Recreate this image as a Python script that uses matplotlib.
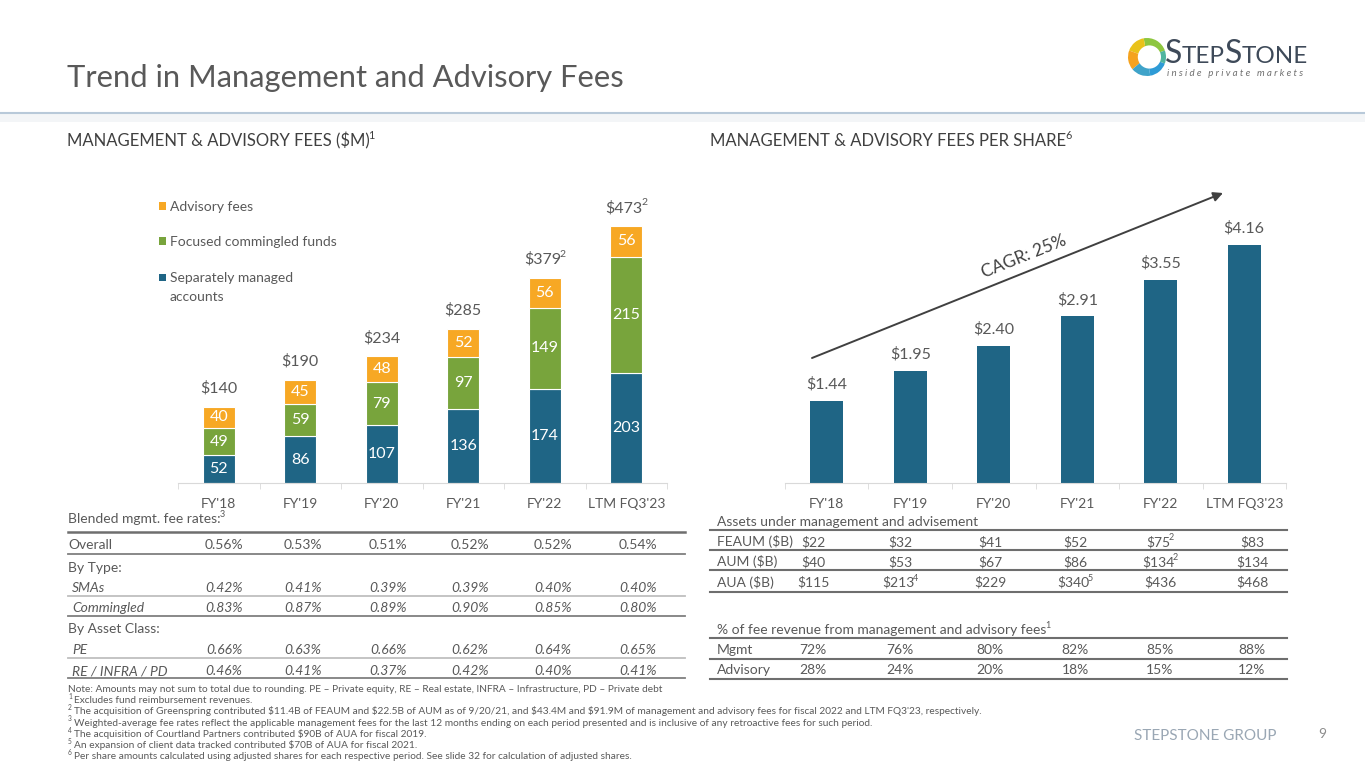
import matplotlib
matplotlib.use("Agg")
import matplotlib.pyplot as plt
from matplotlib.lines import Line2D
from matplotlib.patches import Wedge, Rectangle, Circle

plt.rcParams['font.family'] = ['Lato', 'DejaVu Sans']

# ---- data ----
periods = ["FY'18", "FY'19", "FY'20", "FY'21", "FY'22", "LTM FQ3'23"]
sma = [52, 86, 107, 136, 174, 203]
commingled = [49, 59, 79, 97, 149, 215]
advisory = [40, 45, 48, 52, 56, 56]
total_labels = ["$140", "$190", "$234", "$285", "$379²", "$473²"]

per_share = [1.44, 1.95, 2.40, 2.91, 3.55, 4.16]
cagr_text = "CAGR: 25%"

fee_rows = [
    ("Overall", ["0.56%", "0.53%", "0.51%", "0.52%", "0.52%", "0.54%"], "normal"),
    ("By Type:", None, "normal"),
    ("SMAs", ["0.42%", "0.41%", "0.39%", "0.39%", "0.40%", "0.40%"], "italic"),
    ("Commingled", ["0.83%", "0.87%", "0.89%", "0.90%", "0.85%", "0.80%"], "italic"),
    ("By Asset Class:", None, "normal"),
    ("PE", ["0.66%", "0.63%", "0.66%", "0.62%", "0.64%", "0.65%"], "italic"),
    ("RE / INFRA / PD", ["0.46%", "0.41%", "0.37%", "0.42%", "0.40%", "0.41%"], "italic"),
]
aum_rows = [
    ("FEAUM ($B)", ["$22", "$32", "$41", "$52", "$75²", "$83"]),
    ("AUM ($B)", ["$40", "$53", "$67", "$86", "$134²", "$134"]),
    ("AUA ($B)", ["$115", "$213⁴", "$229", "$340⁵", "$436", "$468"]),
]
mix_rows = [
    ("Mgmt", ["72%", "76%", "80%", "82%", "85%", "88%"]),
    ("Advisory", ["28%", "24%", "20%", "18%", "15%", "12%"]),
]
footnotes = [
    "Note: Amounts may not sum to total due to rounding. PE – Private equity, RE – Real estate, INFRA – Infrastructure, PD – Private debt",
    "¹ Excludes fund reimbursement revenues.",
    "² The acquisition of Greenspring contributed $11.4B of FEAUM and $22.5B of AUM as of 9/20/21, and $43.4M and $91.9M of management and advisory fees for fiscal 2022 and LTM FQ3'23, respectively.",
    "³ Weighted-average fee rates reflect the applicable management fees for the last 12 months ending on each period presented and is inclusive of any retroactive fees for such period.",
    "⁴ The acquisition of Courtland Partners contributed $90B of AUA for fiscal 2019.",
    "⁵ An expansion of client data tracked contributed $70B of AUA for fiscal 2021.",
    "⁶ Per share amounts calculated using adjusted shares for each respective period. See slide 32 for calculation of adjusted shares.",
]

BLUE = "#1F6585"
GREEN = "#78A43C"
ORANGE = "#F7A824"
GRAY = "#595959"
DARK = "#404040"

W, H = 1365, 768
fig = plt.figure(figsize=(W / 100, H / 100), dpi=100)
renderer = fig.canvas.get_renderer()

SUPS = {"¹": "1", "²": "2", "³": "3", "⁴": "4", "⁵": "5", "⁶": "6"}


def _put(x, yb, s, **kw):
    t = fig.text(x / W, 1 - yb / H, s, parse_math=False, va="baseline", ha="left", **kw)
    return t, t.get_window_extent(renderer).width


def T(x, y, s, ha="left", **kw):
    # y is the visual middle of the capitals; text sits on its baseline,
    # superscript markers are drawn as separate smaller texts
    kw.setdefault("color", GRAY)
    fs = kw.pop("fontsize", 10)
    yb = y + 0.36 * fs * 100 / 72
    ys = yb - 0.42 * fs * 100 / 72
    lead = trail = None
    if s and s[0] in SUPS:
        lead, s = SUPS[s[0]], s[1:].lstrip()
    if s and s[-1] in SUPS:
        trail, s = SUPS[s[-1]], s[:-1]
    parts = []
    if lead:
        parts.append((_put(0, ys, lead, fontsize=fs * 0.65, **kw), 2.5))
    parts.append((_put(0, yb, s, fontsize=fs, **kw), -1.2 if trail else 0))
    if trail:
        parts.append((_put(0, ys, trail, fontsize=fs * 0.65, **kw), 0))
    total = sum(w + gap for (t, w), gap in parts)
    x0 = {"left": x, "center": x - total / 2, "right": x - total}[ha]
    for (t, w), gap in parts:
        t.set_x(x0 / W)
        x0 += w + gap


def hline(x0, x1, y, color="#7F7F7F", lw=1.3):
    fig.add_artist(Line2D([x0 / W, x1 / W], [1 - y / H, 1 - y / H],
                          transform=fig.transFigure, color=color, lw=lw))


def px_axes(x0, y0, x1, y1):
    return fig.add_axes([x0 / W, 1 - y1 / H, (x1 - x0) / W, (y1 - y0) / H])


# ---- header ----
T(67, 76, "Trend in Management and Advisory Fees", fontsize=22.2, color=GRAY)
hline(0, W, 113, color="#B8C9D9", lw=1.5)
fig.add_artist(Rectangle((0, 1 - 122 / H), 1, 8 / H, transform=fig.transFigure,
                         color="#F3F5F7", lw=0))
T(67, 140, "MANAGEMENT & ADVISORY FEES ($M)¹", fontsize=12, color=DARK)
T(710, 140, "MANAGEMENT & ADVISORY FEES PER SHARE⁶", fontsize=12, color=DARK)

# logo
lax = px_axes(1127, 37, 1167, 77)
lax.set_xlim(-1, 1)
lax.set_ylim(-1, 1)
lax.set_aspect("equal")
lax.axis("off")
ring = [(20, 100, "#8DC63F"), (100, 160, "#E9C21A"), (160, 220, "#F5A21E"),
        (220, 280, "#3FA3C9"), (280, 340, "#2E9BD6"), (340, 380, "#4FB5A0")]
for a0, a1, c in ring:
    lax.add_patch(Wedge((0, 0), 0.95, a0, a1, color=c, lw=0))
lax.add_patch(Circle((0.12, 0.0), 0.58, color="white", lw=0))

lx = 1165
for piece, fs in [("S", 23), ("TEP", 17.5), ("S", 23), ("TONE", 17.5)]:
    t, w = _put(lx, 63, piece, fontsize=fs, color="#3E4A59")
    lx += w - 0.3
T(1167, 73, " ".join("inside private markets"), fontsize=7, style="italic", color="#707070")

# ---- left chart: stacked fees ----
ax = px_axes(178, 190, 667, 483)
x = range(len(periods))
bw = 0.39
ax.bar(x, sma, bw, color=BLUE, edgecolor="white", lw=0.8)
b2 = [s for s in sma]
ax.bar(x, commingled, bw, bottom=b2, color=GREEN, edgecolor="white", lw=0.8)
b3 = [s + c for s, c in zip(sma, commingled)]
ax.bar(x, advisory, bw, bottom=b3, color=ORANGE, edgecolor="white", lw=0.8)
for i in x:
    ax.text(i, sma[i] / 2, str(sma[i]), ha="center", va="center", color="white", fontsize=11.5)
    ax.text(i, b2[i] + commingled[i] / 2, str(commingled[i]), ha="center", va="center",
            color="white", fontsize=11.5)
    ax.text(i, b3[i] + advisory[i] / 2, str(advisory[i]), ha="center", va="center",
            color="white", fontsize=11.5)
ax.set_xlim(-0.5, len(periods) - 0.5)
ax.set_ylim(0, 541)
# totals above the stacks, placed from the axes' own data transform
for i in x:
    top = b3[i] + advisory[i]
    px, py = ax.transData.transform((i, top))
    T(px, H - py - 20, total_labels[i], ha="center", fontsize=11.5)

# legend drawn by hand, squares + text
for yy, c in [(206, ORANGE), (241, GREEN), (277, BLUE)]:
    fig.add_artist(Rectangle((159 / W, 1 - (yy + 3.5) / H), 7 / W, 7 / H,
                             transform=fig.transFigure, color=c, lw=0))
T(170, 206, "Advisory fees", fontsize=10)
T(170, 241, "Focused commingled funds", fontsize=10)
T(170, 277, "Separately managed", fontsize=10)
T(170, 296, "accounts", fontsize=10)

# ---- right chart: per share ----
ax2 = px_axes(785, 190, 1286, 483)
ax2.bar(x, per_share, 0.395, color=BLUE)
for i in x:
    ax2.annotate(f"${per_share[i]:.2f}", (i, per_share[i]), xytext=(0, 12),
                 textcoords="offset points", ha="center", va="center",
                 color=GRAY, fontsize=11.5, parse_math=False)
ax2.set_xlim(-0.5, len(periods) - 0.5)
ax2.set_ylim(0, 5.12)

for a in (ax, ax2):
    for sp in ("top", "right", "left"):
        a.spines[sp].set_visible(False)
    a.spines["bottom"].set_color("#D9D9D9")
    a.set_yticks([])
    a.set_xticks(list(x))
    a.set_xticklabels(periods, color=GRAY, fontsize=10)
    a.tick_params(axis="x", length=0, pad=11)
    a.set_xticks([i - 0.5 for i in range(len(periods) + 1)], minor=True)
    a.tick_params(axis="x", which="minor", length=4, color="#D9D9D9")

fig.add_artist(plt.Annotation("", xy=(1223 / W, 1 - 193 / H), xytext=(812 / W, 1 - 358 / H),
                              xycoords="figure fraction", textcoords="figure fraction",
                              arrowprops=dict(arrowstyle="-|>", color=DARK, lw=1.4,
                                              mutation_scale=14, shrinkA=0, shrinkB=0)))
fig.text(1024 / W, 1 - 257 / H, cagr_text, fontsize=12.5, color=DARK, rotation=21.9,
         ha="center", va="center", rotation_mode="anchor")

# ---- left table ----
fee_cols = [224, 303, 388, 470, 553, 638]
fee_ys = [544, 567, 587, 607, 628, 649, 670]
T(68, 518, "Blended mgmt. fee rates:³", fontsize=10)
for (lab, vals, st), yy in zip(fee_rows, fee_ys):
    T(68 if st == "normal" else 72, yy, lab, fontsize=10, style=st)
    if vals:
        for cx, v in zip(fee_cols, vals):
            T(cx, yy, v, fontsize=10, style=st, ha="center")
for yy, c, lw in [(532, "#6E6E6E", 1.8), (554, "#7F7F7F", 1.3), (596, "#BFBFBF", 1.3),
                  (616, "#7F7F7F", 1.3), (658, "#BFBFBF", 1.3), (678, "#7F7F7F", 1.3)]:
    hline(68, 685, yy, color=c, lw=lw)

# ---- right tables ----
aum_cols = [813, 900, 990, 1075, 1160, 1252]
T(717, 521, "Assets under management and advisement", fontsize=10)
for (lab, vals), yy in zip(aum_rows, [541, 561, 582]):
    T(717, yy, lab, fontsize=10)
    for cx, v in zip(aum_cols, vals):
        T(cx, yy, v, fontsize=10, ha="center")
for yy in (530, 550, 570, 592):
    hline(710, 1287, yy, color="#6E6E6E", lw=1.5)

T(717, 629, "% of fee revenue from management and advisory fees¹", fontsize=10)
for (lab, vals), yy in zip(mix_rows, [649, 669]):
    T(717, yy, lab, fontsize=10)
    for cx, v in zip(aum_cols, vals):
        T(cx, yy, v, fontsize=10, ha="center")
for yy in (638, 659, 679):
    hline(710, 1287, yy, color="#6E6E6E", lw=1.5)

# ---- footnotes & footer ----
for k, s in enumerate(footnotes):
    T(68, 688 + k * 11.3, s, fontsize=7.3, color=GRAY)
T(1276, 734, "STEPSTONE GROUP", fontsize=11, color="#9AA7B4", ha="right")
T(1322, 733, "9", fontsize=10, color="#8C8C8C", ha="center")

fig.savefig("out.png", dpi=100)
